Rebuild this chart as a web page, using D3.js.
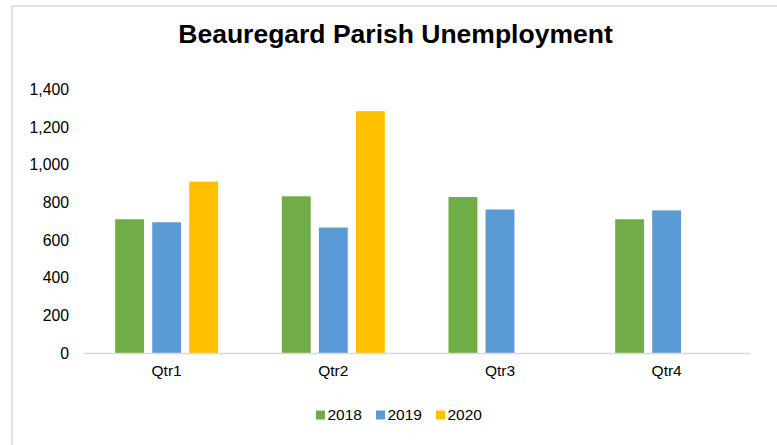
<!DOCTYPE html>
<html>
<head>
<meta charset="utf-8">
<script src="https://cdn.jsdelivr.net/npm/d3@7"></script>
<style>
  body { margin: 0; background: #fff; }
  svg { display: block; font-family: Arial, "Liberation Sans", sans-serif; }
</style>
</head>
<body>
<svg id="chart" width="777" height="445"></svg>
<script>
const quarters = ['Qtr1', 'Qtr2', 'Qtr3', 'Qtr4']
const years = ['2018', '2019', '2020']
const values2018 = [710, 832, 828, 710]
const values2019 = [694, 666, 762, 757]
const values2020 = [910, 1284, null, null]
const yTicks = [0, 200, 400, 600, 800, 1000, 1200, 1400]
const colors = ['#70ad47', '#5b9bd5', '#ffc000']

const series = [values2018, values2019, values2020]

const svg = d3.select('#chart')

// chart border (only top & left visible)
svg.append('rect')
  .attr('x', 12)
  .attr('y', 6)
  .attr('width', 800)
  .attr('height', 500)
  .attr('fill', 'none')
  .attr('stroke', '#d9d9d9')
  .attr('stroke-width', 1.5)

svg.append('text')
  .attr('x', 395.5)
  .attr('y', 42.5)
  .attr('text-anchor', 'middle')
  .style('font-size', '26.5px')
  .style('font-weight', 'bold')
  .attr('fill', '#000')
  .text('Beauregard Parish Unemployment')

const x0 = d3.scaleBand()
  .domain(quarters)
  .range([83.3, 750])

const x1 = d3.scaleBand()
  .domain(years)
  .range([0, 103])
  .paddingInner(0.22)

const y = d3.scaleLinear()
  .domain([0, 1400])
  .range([353, 89.3])

// y axis labels
const yaxis = d3.axisLeft(y).tickValues(yTicks).tickSize(0).tickPadding(0)
  .tickFormat(d3.format(','))
const yaxisg = svg.append('g')
  .attr('transform', 'translate(69,0)')
  .call(yaxis)
yaxisg.select('.domain').remove()
yaxisg.selectAll('text')
  .style('font-size', '15.8px')
  .attr('fill', '#000')
  .attr('font-family', null)

// bars
const groupOffset = x0.bandwidth() / 2 - 51.5
series.forEach((vals, i) => {
  svg.append('g').selectAll('rect')
    .data(quarters.map((q, j) => ({ q, v: vals[j] })).filter(d => d.v != null))
    .enter()
    .append('rect')
    .attr('x', d => x0(d.q) + groupOffset + x1(years[i]))
    .attr('y', d => y(d.v))
    .attr('width', x1.bandwidth())
    .attr('height', d => y(0) - y(d.v))
    .attr('fill', colors[i])
})

// x axis
const xaxis = d3.axisBottom(x0).tickSize(0).tickPadding(12)
const xaxisg = svg.append('g')
  .attr('transform', `translate(0, ${y(0)})`)
  .call(xaxis)
xaxisg.select('.domain')
  .attr('stroke', '#d9d9d9')
  .attr('stroke-width', 1.5)
xaxisg.selectAll('text')
  .style('font-size', '15.5px')
  .attr('fill', '#000')
  .attr('font-family', null)

// legend
const legendX = [316, 376, 436]
const legend = svg.append('g').selectAll('g')
  .data(years)
  .enter()
  .append('g')
  .attr('transform', (d, i) => `translate(${legendX[i]}, 415)`)
legend.append('rect')
  .attr('x', 0)
  .attr('y', -4.5)
  .attr('width', 9)
  .attr('height', 9)
  .attr('fill', (d, i) => colors[i])
legend.append('text')
  .attr('x', 11.5)
  .attr('dy', '0.35em')
  .style('font-size', '15.5px')
  .attr('fill', '#000')
  .text(d => d)
</script>
</body>
</html>
